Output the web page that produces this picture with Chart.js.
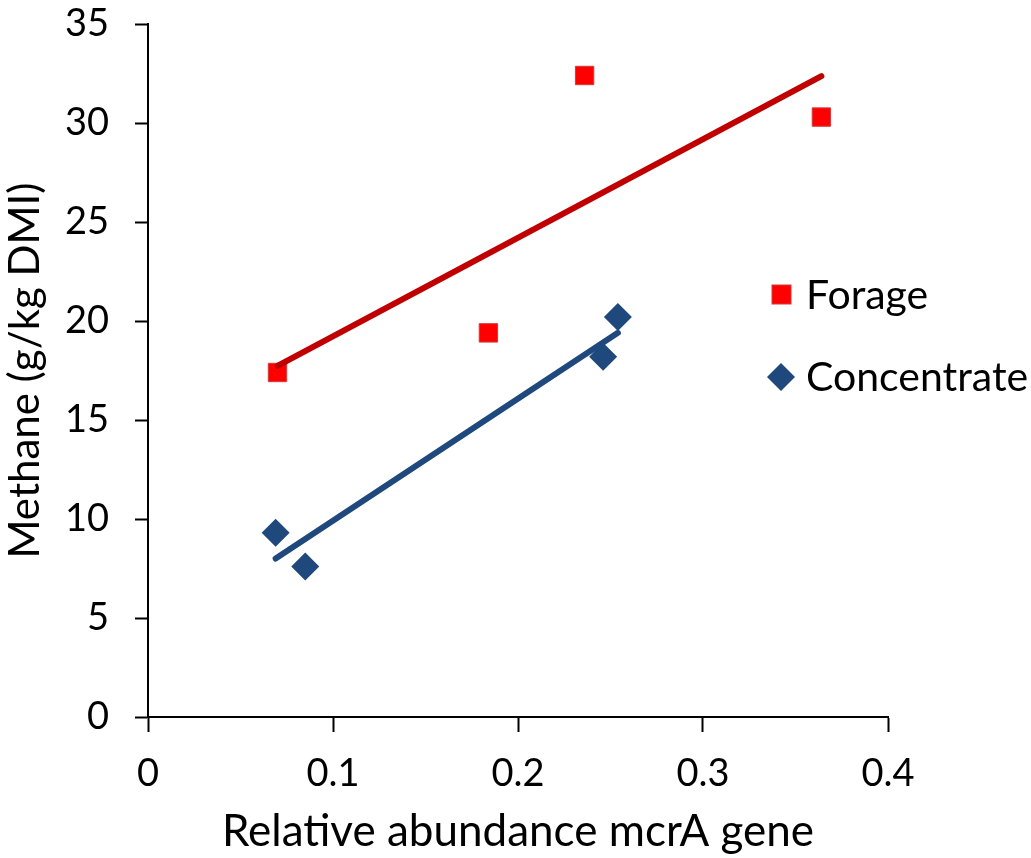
<!DOCTYPE html>
<html>
<head>
<meta charset="utf-8">
<script src="https://cdn.jsdelivr.net/npm/chart.js@4/dist/chart.umd.min.js"></script>
<style>
  html, body { margin: 0; padding: 0; background: #fff; }
  #wrap { width: 1031px; height: 858px; position: relative; }
</style>
</head>
<body>
<div id="wrap"><canvas id="chart"></canvas></div>
<script>
// data
const forageX = [0.070, 0.184, 0.236, 0.364];
const forageY = [17.4, 19.4, 32.4, 30.3];
const concX = [0.069, 0.085, 0.246, 0.254];
const concY = [9.3, 7.6, 18.2, 20.2];

const xTicks = [0, 0.1, 0.2, 0.3, 0.4];
const yTicks = [0, 5, 10, 15, 20, 25, 30, 35];

const FONT = "Lato, 'Open Sans', sans-serif";
const RED = "#ff0000";
const RED_LINE = "#c00000";
const BLUE = "#1f497d";

// least squares trendline over the range of the points (like Excel)
function trend(xs, ys) {
  const n = xs.length;
  const mx = xs.reduce((a, b) => a + b, 0) / n;
  const my = ys.reduce((a, b) => a + b, 0) / n;
  let sxy = 0, sxx = 0;
  for (let i = 0; i < n; i++) {
    sxy += (xs[i] - mx) * (ys[i] - my);
    sxx += (xs[i] - mx) * (xs[i] - mx);
  }
  const b = sxy / sxx, a = my - b * mx;
  const x0 = Math.min(...xs), x1 = Math.max(...xs);
  return [{ x: x0, y: a + b * x0 }, { x: x1, y: a + b * x1 }];
}

const pts = (xs, ys) => xs.map((x, i) => ({ x, y: ys[i] }));

/* ---------- legend drawn inside the plot ---------- */
const legendPlugin = {
  id: "sideLegend",
  afterDraw(chart) {
    const ctx = chart.ctx;
    ctx.save();
    ctx.font = "41px " + FONT;
    ctx.textBaseline = "middle";

    // Forage square
    ctx.fillStyle = RED;
    ctx.fillRect(772, 285, 19, 19);
    ctx.strokeStyle = "#d23a3a";
    ctx.lineWidth = 1;
    ctx.strokeRect(772, 285, 19, 19);
    ctx.fillStyle = "#000";
    ctx.fillText("Forage", 806, 296);

    // Concentrate diamond
    ctx.fillStyle = BLUE;
    ctx.beginPath();
    ctx.moveTo(781, 363);
    ctx.lineTo(795, 377);
    ctx.lineTo(781, 391);
    ctx.lineTo(767, 377);
    ctx.closePath();
    ctx.fill();
    ctx.fillStyle = "#000";
    ctx.fillText("Concentrate", 806, 378);
    ctx.restore();
  }
};

new Chart(document.getElementById("chart"), {
  type: "scatter",
  data: {
    datasets: [
      {
        label: "Forage trend",
        type: "line",
        data: trend(forageX, forageY),
        borderColor: RED_LINE,
        borderWidth: 6,
        borderCapStyle: "round",
        pointRadius: 0,
        fill: false,
        order: 0
      },
      {
        label: "Concentrate trend",
        type: "line",
        data: trend(concX, concY),
        borderColor: BLUE,
        borderWidth: 6,
        borderCapStyle: "round",
        pointRadius: 0,
        fill: false,
        order: 0
      },
      {
        label: "Forage",
        data: pts(forageX, forageY),
        pointStyle: "rect",
        pointRadius: 13,
        backgroundColor: RED,
        borderColor: "#d23a3a",
        borderWidth: 1,
        order: 1
      },
      {
        label: "Concentrate",
        data: pts(concX, concY),
        pointStyle: "rectRot",
        pointRadius: 14,
        backgroundColor: BLUE,
        borderColor: BLUE,
        borderWidth: 0,
        order: 1
      }
    ]
  },
  options: {
    responsive: true,
    maintainAspectRatio: false,
    animation: false,
    layout: { padding: { top: 0, right: 143, left: 0, bottom: 0 } },
    plugins: {
      legend: { display: false },
      tooltip: { enabled: false }
    },
    scales: {
      x: {
        type: "linear",
        min: 0,
        max: 0.4,
        afterBuildTicks: (s) => { s.ticks = xTicks.map(v => ({ value: v })); },
        afterFit: (s) => { s.height = 141; },
        grid: { drawOnChartArea: false, drawTicks: true, tickLength: 15, tickWidth: 2, color: "#000" },
        border: { display: true, color: "#000", width: 2 },
        ticks: {
          color: "#000",
          padding: 19,
          font: { family: FONT, size: 38 },
          callback: (v) => String(v)
        },
        title: {
          display: true,
          text: "Relative abundance mcrA gene",
          color: "#000",
          font: { family: FONT, size: 44 },
          padding: { top: 0, bottom: 0 }
        }
      },
      y: {
        type: "linear",
        min: 0,
        max: 35,
        afterBuildTicks: (s) => { s.ticks = yTicks.map(v => ({ value: v })); },
        afterFit: (s) => { s.width = 148; s.paddingTop = 24; },
        grid: { drawOnChartArea: false, drawTicks: true, tickLength: 13, tickWidth: 2, color: "#000" },
        border: { display: true, color: "#000", width: 2 },
        ticks: {
          color: "#000",
          padding: 26,
          font: { family: FONT, size: 38 },
          callback: (v) => String(v)
        },
        title: {
          display: true,
          text: "Methane (g/kg DMI)",
          color: "#000",
          font: { family: FONT, size: 42 },
          padding: { top: 0, bottom: 0 }
        }
      }
    }
  },
  plugins: [legendPlugin]
});
</script>
</body>
</html>
